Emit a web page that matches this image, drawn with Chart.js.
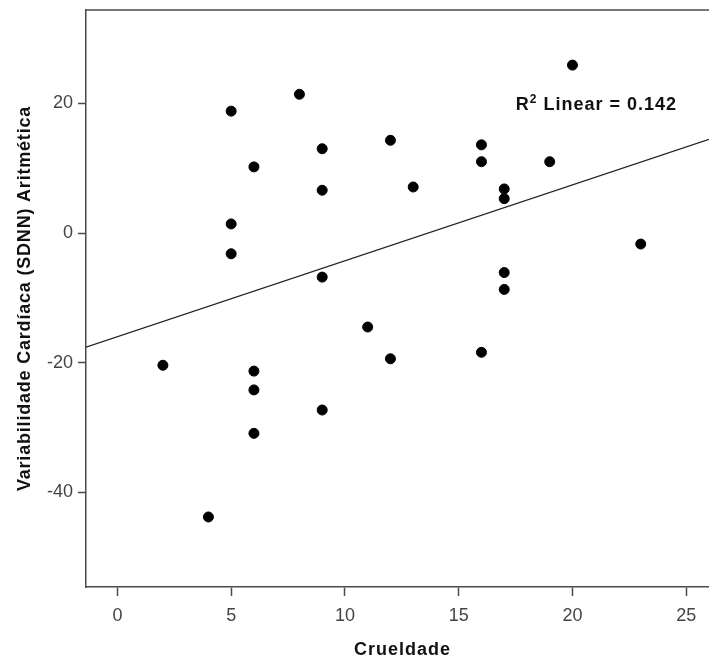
<!DOCTYPE html>
<html>
<head>
<meta charset="utf-8">
<script src="https://cdn.jsdelivr.net/npm/chart.js@4/dist/chart.umd.min.js"></script>
<style>
    html, body { margin: 0; padding: 0; background: #fff; }
</style>
</head>
<body>
<canvas id="chart" width="709" height="661"></canvas>
<script>
// dados
const crueldade = [4, 2, 5, 5, 5, 6, 6, 6, 6, 8, 9, 9, 9, 9, 11, 12, 12, 13, 16, 16, 16, 17, 17, 17, 17, 19, 20, 23];
const sdnn = [-43.8, -20.4, 18.8, 1.4, -3.2, 10.2, -21.3, -24.2, -30.9, 21.4, 13.0, 6.6, -6.8, -27.3, -14.5, 14.3, -19.4, 7.1, 13.6, 11.0, -18.4, 6.8, 5.3, -6.1, -8.7, 11.0, 25.9, -1.7];

const fitX = [-1.38, 26];
const fitY = [-17.6, 14.45];

const xTicks = [0, 5, 10, 15, 20, 25];
const yTicks = [-40, -20, 0, 20];
const xTitle = 'Crueldade';
const yTitle = 'Variabilidade Cardíaca (SDNN) Aritmética';
const r2Text = '0.142';
const r2Pos = { x: 21.05, y: 19.0 };

document.addEventListener('DOMContentLoaded', function() {
    const ctx = document.getElementById('chart').getContext('2d');
    const axisColor = '#4a4a4a';
    const fam = '"Liberation Sans", Arial, sans-serif';
    const boldFont = 'bold 18px ' + fam;

    // moldura superior, títulos dos eixos e rótulo R²
    const framePlugin = {
        id: 'frame',
        afterDraw(chart) {
            const c = chart.ctx;
            const a = chart.chartArea;
            c.save();
            c.strokeStyle = axisColor;
            c.lineWidth = 1.5;
            c.beginPath();
            c.moveTo(a.left, a.top);
            c.lineTo(a.right + 5, a.top);
            c.stroke();

            c.fillStyle = '#111';
            c.letterSpacing = '1px';

            // título eixo X
            c.font = boldFont;
            c.textAlign = 'center';
            c.textBaseline = 'alphabetic';
            c.fillText(xTitle, (a.left + a.right) / 2 + 5, 655);

            // título eixo Y
            c.save();
            c.translate(25, (a.top + a.bottom) / 2);
            c.rotate(-Math.PI / 2);
            c.textBaseline = 'middle';
            c.letterSpacing = '0.8px';
            c.fillText(yTitle, 0, 0);
            c.restore();

            // R² Linear
            const px = chart.scales.x.getPixelForValue(r2Pos.x);
            const py = chart.scales.y.getPixelForValue(r2Pos.y);
            c.textAlign = 'left';
            c.textBaseline = 'alphabetic';
            const rest = ' Linear = ' + r2Text;
            c.font = boldFont;
            const wR = c.measureText('R').width;
            const wRest = c.measureText(rest).width;
            c.font = 'bold 12px ' + fam;
            const w2 = c.measureText('2').width;
            const x0 = px - (wR + w2 + wRest) / 2;
            c.font = boldFont;
            c.fillText('R', x0, py);
            c.font = 'bold 12px ' + fam;
            c.fillText('2', x0 + wR, py - 7);
            c.font = boldFont;
            c.fillText(rest, x0 + wR + w2, py);
            c.restore();
        }
    };

    const points = crueldade.map((v, i) => ({ x: v, y: sdnn[i] }));
    const fitLine = fitX.map((v, i) => ({ x: v, y: fitY[i] }));

    new Chart(ctx, {
        type: 'scatter',
        data: {
            datasets: [{
                label: 'SDNN',
                data: points,
                backgroundColor: '#000',
                borderColor: '#000',
                pointRadius: 5,
                pointHoverRadius: 5,
                order: 1
            }, {
                type: 'line',
                label: 'Linear',
                data: fitLine,
                borderColor: '#222',
                borderWidth: 1.2,
                pointRadius: 0,
                fill: false,
                order: 2
            }]
        },
        options: {
            responsive: false,
            animation: false,
            layout: { autoPadding: false, padding: { top: 10, left: 0, right: 0, bottom: 0 } },
            plugins: { legend: { display: false }, tooltip: { enabled: false } },
            scales: {
                x: {
                    type: 'linear',
                    min: -1.38,
                    max: 26,
                    afterBuildTicks: s => { s.ticks = xTicks.map(v => ({ value: v })); },
                    afterFit: s => { s.height = 74; s.paddingLeft = 0; s.paddingRight = 0; },
                    grid: { drawOnChartArea: false, drawTicks: true, tickLength: 9, color: axisColor, tickWidth: 1.5 },
                    border: { display: true, color: axisColor, width: 1.5 },
                    ticks: { color: '#444', padding: 9, font: { family: fam, size: 18 } },
                    title: { display: false }
                },
                y: {
                    type: 'linear',
                    min: -54.6,
                    max: 34.4,
                    afterBuildTicks: s => { s.ticks = yTicks.map(v => ({ value: v })); },
                    afterFit: s => { s.width = 86; s.paddingTop = 0; s.paddingBottom = 0; },
                    grid: { drawOnChartArea: false, drawTicks: true, tickLength: 8, color: axisColor, tickWidth: 1.5 },
                    border: { display: true, color: axisColor, width: 1.5 },
                    ticks: { color: '#444', padding: 5, font: { family: fam, size: 18 } },
                    title: { display: false }
                }
            }
        },
        plugins: [framePlugin]
    });
});
</script>
</body>
</html>
